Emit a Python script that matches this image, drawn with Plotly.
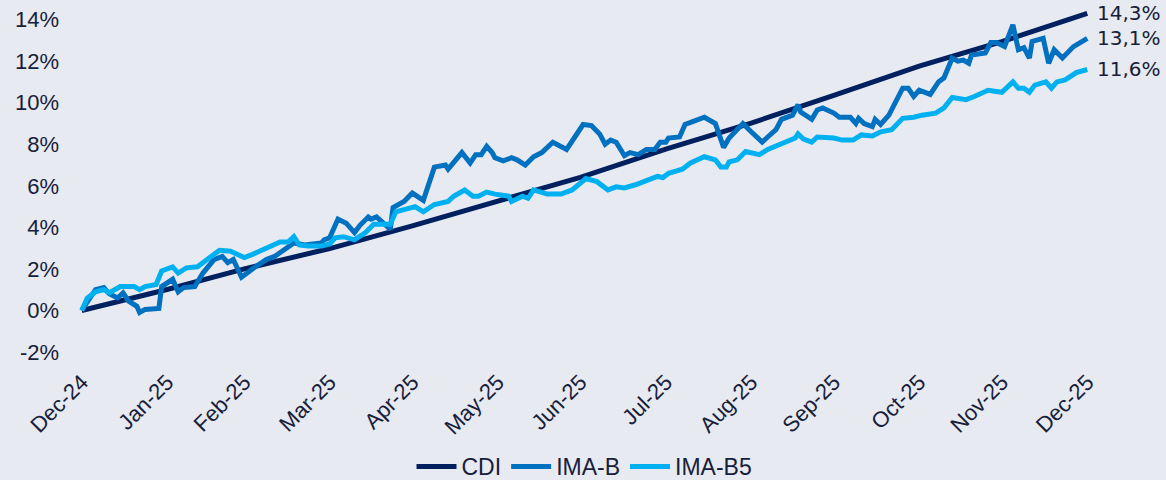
import plotly.graph_objects as go

# ---------------- data ----------------
cdi_dates = ["2024-12-31", "2025-01-31", "2025-02-28", "2025-03-31", "2025-04-30",
             "2025-05-31", "2025-06-30", "2025-07-31", "2025-08-31", "2025-09-30",
             "2025-10-31", "2025-11-30", "2025-12-31"]
cdi_values = [0.0, 1.01, 2.00, 2.98, 4.07, 5.26, 6.41, 7.77, 9.02, 10.35, 11.76, 12.94, 14.3]

imab_dates = [
    "2024-12-31", "2025-01-05", "2025-01-08", "2025-01-10", "2025-01-13", "2025-01-15",
    "2025-01-17", "2025-01-20", "2025-01-21", "2025-01-23", "2025-01-28", "2025-01-29",
    "2025-02-02", "2025-02-04", "2025-02-06", "2025-02-10", "2025-02-13", "2025-02-17",
    "2025-02-20", "2025-02-22", "2025-02-24", "2025-02-27", "2025-03-04", "2025-03-08",
    "2025-03-11", "2025-03-14", "2025-03-18", "2025-03-22", "2025-03-28", "2025-03-29",
    "2025-03-31", "2025-04-03", "2025-04-06", "2025-04-09", "2025-04-11", "2025-04-14",
    "2025-04-15", "2025-04-17", "2025-04-22", "2025-04-23", "2025-04-27", "2025-04-30",
    "2025-05-04", "2025-05-08", "2025-05-12", "2025-05-13", "2025-05-18", "2025-05-21",
    "2025-05-23", "2025-05-25", "2025-05-27", "2025-05-29", "2025-05-30", "2025-06-02",
    "2025-06-05", "2025-06-07", "2025-06-10", "2025-06-13", "2025-06-16", "2025-06-20",
    "2025-06-23", "2025-06-25", "2025-07-01", "2025-07-04", "2025-07-07", "2025-07-09",
    "2025-07-11", "2025-07-13", "2025-07-16", "2025-07-18", "2025-07-21", "2025-07-24",
    "2025-07-27", "2025-07-29", "2025-07-31", "2025-08-01", "2025-08-05", "2025-08-07",
    "2025-08-10", "2025-08-14", "2025-08-18", "2025-08-20", "2025-08-21", "2025-08-23",
    "2025-08-25", "2025-08-28", "2025-08-31", "2025-09-04", "2025-09-06", "2025-09-09",
    "2025-09-11", "2025-09-15", "2025-09-17", "2025-09-18", "2025-09-22", "2025-09-24",
    "2025-09-26", "2025-09-30", "2025-10-02", "2025-10-06", "2025-10-08", "2025-10-09",
    "2025-10-11", "2025-10-14", "2025-10-15", "2025-10-17", "2025-10-20", "2025-10-25",
    "2025-10-27", "2025-10-29", "2025-10-31", "2025-11-04", "2025-11-07", "2025-11-09",
    "2025-11-12", "2025-11-14", "2025-11-16", "2025-11-18", "2025-11-19", "2025-11-24",
    "2025-11-26", "2025-11-28", "2025-12-01", "2025-12-04", "2025-12-06", "2025-12-08",
    "2025-12-10", "2025-12-11", "2025-12-15", "2025-12-17", "2025-12-19", "2025-12-22",
    "2025-12-26", "2025-12-31"]
imab_values = [
    0.0, 1.0, 1.1, 0.8, 0.6, 0.85,
    0.45, 0.2, -0.1, 0.05, 0.1, 1.15,
    1.5, 0.9, 1.1, 1.15, 1.8, 2.45,
    2.6, 2.3, 2.45, 1.6, 2.1, 2.45,
    2.6, 2.9, 3.25, 3.15, 3.25, 3.4,
    3.5, 4.4, 4.2, 3.75, 4.1, 4.5,
    4.4, 4.5, 3.9, 4.95, 5.25, 5.65,
    5.3, 6.9, 7.0, 6.8, 7.6, 7.1,
    7.5, 7.5, 7.9, 7.6, 7.35, 7.2,
    7.35, 7.25, 7.0, 7.4, 7.6, 8.1,
    7.9, 7.75, 8.95, 8.9, 8.5, 8.0,
    8.2, 8.1, 7.45, 7.6, 7.5, 7.75,
    7.75, 8.1, 8.1, 8.3, 8.35, 8.95,
    9.1, 9.3, 9.0, 8.1, 7.85, 8.3,
    8.55, 9.0, 8.6, 8.1, 8.35, 8.7,
    9.2, 9.4, 9.9, 9.55, 9.2, 9.65,
    9.75, 9.5, 9.3, 9.3, 9.0, 9.25,
    9.0, 8.85, 9.2, 8.95, 9.4, 10.7,
    10.7, 10.3, 10.6, 10.4, 11.0, 11.2,
    12.15, 12.0, 12.05, 11.9, 12.3, 12.4,
    12.9, 12.9, 12.7, 13.75, 12.55, 12.65,
    12.15, 12.95, 13.1, 11.9, 12.55, 12.15,
    12.7, 13.1]

imab5_dates = [
    "2024-12-31", "2025-01-02", "2025-01-05", "2025-01-08", "2025-01-10", "2025-01-14",
    "2025-01-19", "2025-01-21", "2025-01-23", "2025-01-27", "2025-01-29", "2025-02-02",
    "2025-02-04", "2025-02-07", "2025-02-11", "2025-02-13", "2025-02-16", "2025-02-19",
    "2025-02-23", "2025-02-28", "2025-03-03", "2025-03-07", "2025-03-11", "2025-03-13",
    "2025-03-16", "2025-03-18", "2025-03-20", "2025-03-23", "2025-03-28", "2025-03-31",
    "2025-04-02", "2025-04-05", "2025-04-09", "2025-04-13", "2025-04-16", "2025-04-20",
    "2025-04-22", "2025-04-24", "2025-04-27", "2025-05-01", "2025-05-04", "2025-05-08",
    "2025-05-13", "2025-05-15", "2025-05-19", "2025-05-22", "2025-05-24", "2025-05-27",
    "2025-05-30", "2025-06-04", "2025-06-05", "2025-06-09", "2025-06-11", "2025-06-13",
    "2025-06-18", "2025-06-23", "2025-06-27", "2025-07-02", "2025-07-06", "2025-07-10",
    "2025-07-13", "2025-07-16", "2025-07-20", "2025-07-25", "2025-07-28", "2025-07-30",
    "2025-08-01", "2025-08-06", "2025-08-09", "2025-08-14", "2025-08-18", "2025-08-20",
    "2025-08-22", "2025-08-23", "2025-08-26", "2025-08-29", "2025-09-03", "2025-09-06",
    "2025-09-08", "2025-09-12", "2025-09-16", "2025-09-17", "2025-09-19", "2025-09-22",
    "2025-09-24", "2025-09-30", "2025-10-03", "2025-10-07", "2025-10-10", "2025-10-14",
    "2025-10-17", "2025-10-21", "2025-10-25", "2025-10-29", "2025-11-01", "2025-11-06",
    "2025-11-09", "2025-11-12", "2025-11-17", "2025-11-20", "2025-11-25", "2025-11-30",
    "2025-12-04", "2025-12-06", "2025-12-08", "2025-12-10", "2025-12-12", "2025-12-16",
    "2025-12-18", "2025-12-20", "2025-12-23", "2025-12-27", "2025-12-31"]
imab5_values = [
    0.0, 0.6, 0.9, 1.0, 0.85, 1.15,
    1.15, 1.0, 1.15, 1.25, 1.9, 2.1,
    1.8, 2.05, 2.1, 2.3, 2.6, 2.9,
    2.85, 2.55, 2.7, 2.95, 3.15, 3.3,
    3.3, 3.55, 3.15, 3.1, 3.1, 3.2,
    3.5, 3.55, 3.4, 3.75, 4.15, 4.15,
    4.15, 4.75, 4.85, 5.0, 4.75, 5.1,
    5.25, 5.5, 5.8, 5.5, 5.5, 5.7,
    5.6, 5.5, 5.25, 5.5, 5.4, 5.8,
    5.6, 5.6, 5.8, 6.35, 6.2, 5.8,
    5.95, 5.9, 6.05, 6.3, 6.45, 6.4,
    6.6, 6.8, 7.1, 7.4, 7.25, 6.9,
    6.9, 7.15, 7.25, 7.65, 7.5, 7.75,
    7.85, 8.1, 8.3, 8.5, 8.25, 8.1,
    8.35, 8.3, 8.2, 8.2, 8.45, 8.4,
    8.6, 8.7, 9.25, 9.3, 9.4, 9.5,
    9.75, 10.25, 10.15, 10.3, 10.6, 10.5,
    11.0, 10.7, 10.7, 10.5, 10.85, 11.0,
    10.7, 11.0, 11.1, 11.45, 11.6]

tick_dates = ["2024-12-31", "2025-01-31", "2025-02-28", "2025-03-31", "2025-04-30",
              "2025-05-31", "2025-06-30", "2025-07-31", "2025-08-31", "2025-09-30",
              "2025-10-31", "2025-11-30", "2025-12-31"]
tick_labels = ["Dec-24", "Jan-25", "Feb-25", "Mar-25", "Apr-25", "May-25", "Jun-25",
               "Jul-25", "Aug-25", "Sep-25", "Oct-25", "Nov-25", "Dec-25"]
y_ticks = [-2, 0, 2, 4, 6, 8, 10, 12, 14]
y_labels = ["-2%", "0%", "2%", "4%", "6%", "8%", "10%", "12%", "14%"]

end_labels = ["14,3%", "13,1%", "11,6%"]

# ---------------- styling ----------------
BG = "#E7EAF0"
TXT = "#17203A"
FONT = "Liberation Sans, Arial, sans-serif"
LABEL_FONT = "DejaVu Sans, sans-serif"
C_CDI = "#002060"
C_IMAB = "#0070C0"
C_IMAB5 = "#00B0F0"

fig = go.Figure()
series = [
    ("CDI", cdi_dates, cdi_values, C_CDI),
    ("IMA-B", imab_dates, imab_values, C_IMAB),
    ("IMA-B5", imab5_dates, imab5_values, C_IMAB5),
]
for name, xs, ys, col in series:
    fig.add_trace(go.Scatter(x=xs, y=ys, name=name, mode="lines",
                             line=dict(color=col, width=5),
                             cliponaxis=False))

for (name, xs, ys, col), lab in zip(series, end_labels):
    fig.add_annotation(x=xs[-1], y=ys[-1], text=lab, showarrow=False,
                       xanchor="left", yanchor="middle", xshift=8,
                       font=dict(family=LABEL_FONT, size=20, color=TXT))

fig.update_layout(
    width=1166, height=480,
    margin=dict(l=79, r=76, t=3, b=128, autoexpand=False),
    paper_bgcolor=BG, plot_bgcolor=BG,
    font=dict(family=FONT, size=22, color=TXT),
    showlegend=True,
    legend=dict(orientation="h", x=0.5, xanchor="center",
                yref="container", y=0.028, yanchor="middle",
                font=dict(family=FONT, size=23, color=TXT), bgcolor="rgba(0,0,0,0)",
                itemwidth=40, tracegroupgap=0),
    xaxis=dict(type="date", range=["2024-12-30", "2026-01-01"],
               tickmode="array", tickvals=tick_dates, ticktext=tick_labels,
               tickangle=-45, showgrid=False, zeroline=False, showline=False,
               ticks="", ticklabelstandoff=12, automargin=False,
               tickfont=dict(family=FONT, size=22, color=TXT)),
    yaxis=dict(range=[-2, 14.8], tickmode="array", tickvals=y_ticks, ticktext=y_labels,
               showgrid=False, zeroline=False, showline=False, ticks="",
               ticklabelstandoff=19, automargin=False,
               tickfont=dict(family=FONT, size=22, color=TXT)),
)

fig.write_html("out.html",
               config={"displayModeBar": False, "staticPlot": True},
               post_script="document.body.style.margin='0';"
                           "document.body.style.overflow='hidden';")
